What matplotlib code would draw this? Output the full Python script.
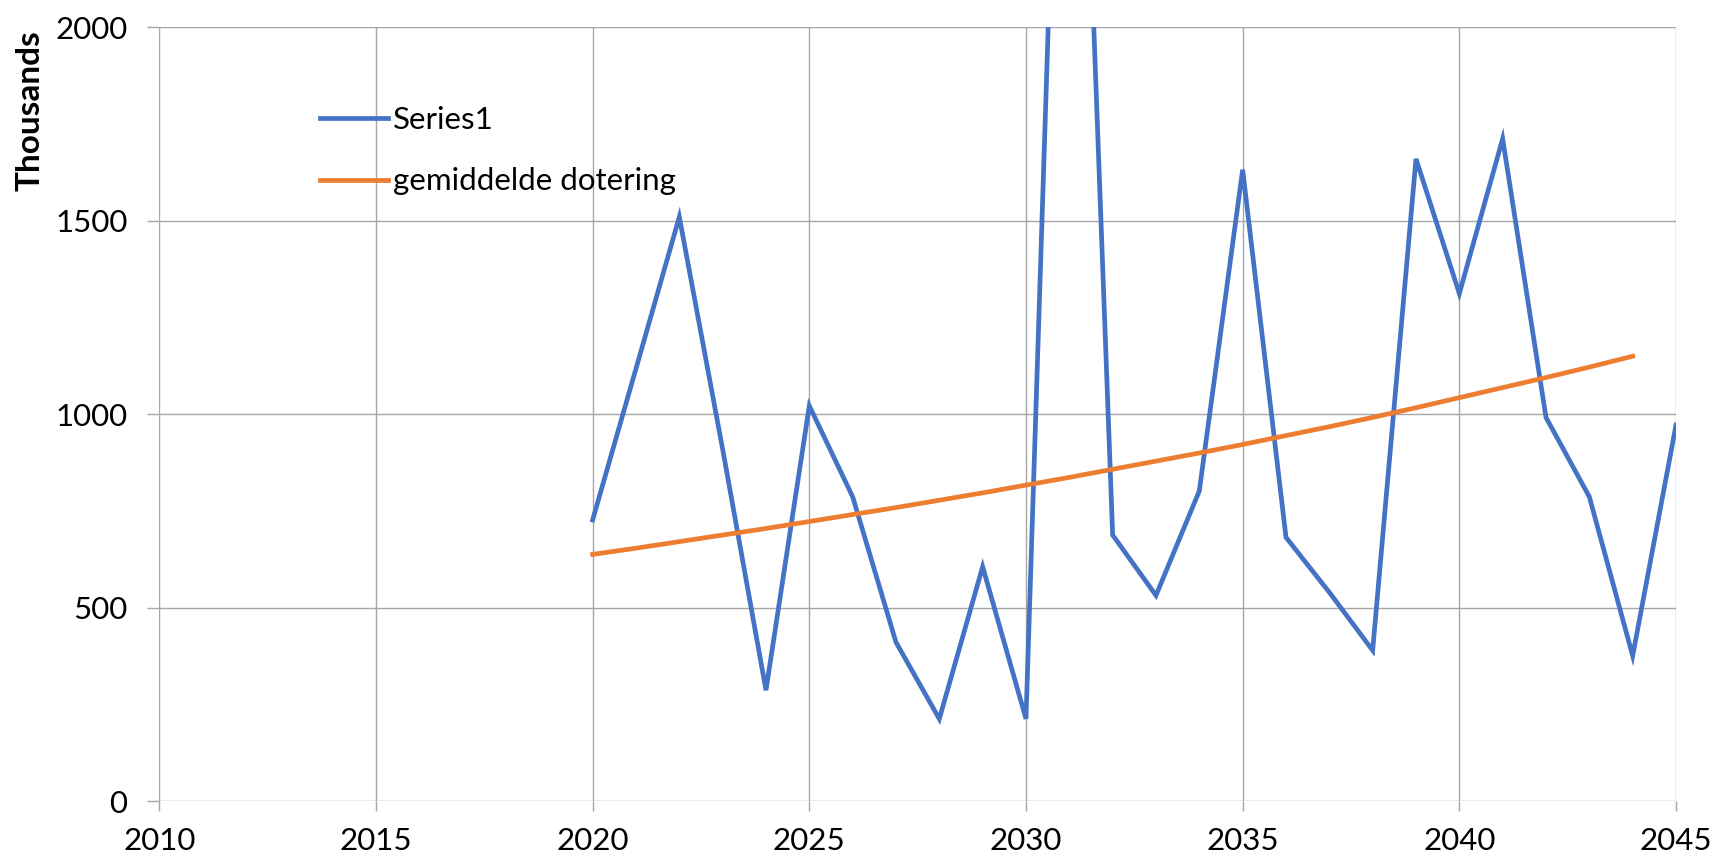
import matplotlib.pyplot as plt

# data (values in thousands)
years = list(range(2020, 2046))
series1 = [727, 1118, 1510, 910, 287, 1022, 787, 411, 213, 606,
           213, 3700, 688, 532, 802, 1632, 682, 540, 390, 1660,
           1312, 1712, 992, 787, 376, 972]

avg_years = list(range(2020, 2045))
gemiddelde = [638, 654, 671, 688, 705, 723, 741, 759, 778, 797,
              817, 837, 858, 879, 900, 922, 945, 968, 992, 1017,
              1043, 1069, 1095, 1122, 1150]

x_ticks = [2010, 2015, 2020, 2025, 2030, 2035, 2040, 2045]
y_ticks = [0, 500, 1000, 1500, 2000]

plt.rcParams['font.family'] = ['Lato', 'DejaVu Sans']

fig = plt.figure(figsize=(17.13, 8.6), dpi=100)
ax = fig.add_axes([159.3 / 1713, 1 - 801.3 / 860, (1676 - 159.3) / 1713, (801.3 - 27.3) / 860])

grid_col = '#a6a6a6'
ax.plot(years, series1, color='#4472C4', lw=3.4, label='Series1', solid_joinstyle='miter')
ax.plot(avg_years, gemiddelde, color='#ED7D31', lw=3.4, label='gemiddelde dotering')

ax.set_xlim(2010, 2045)
ax.set_ylim(0, 2000)
ax.set_xticks(x_ticks)
ax.set_yticks(y_ticks)
ax.grid(True, color=grid_col, lw=1.0)
ax.set_axisbelow(True)

for s in ax.spines.values():
    s.set_visible(False)

ax.tick_params(axis='x', length=7.5, width=1.0, color=grid_col, pad=11, labelsize=22.5)
ax.tick_params(axis='y', length=9, width=1.0, color=grid_col, pad=14, labelsize=22.5)

fig.text(30 / 1713, 1 - 111 / 860, 'Thousands', rotation=90, ha='center', va='center',
         fontsize=24, fontweight='bold')

ax.legend(loc='upper left', bbox_to_anchor=((320 - 159.3) / 1516.7, 1 - (106 - 27.3) / 774),
          frameon=False, fontsize=22.5, handlelength=2.18, handletextpad=0.15,
          borderpad=0, borderaxespad=0, labelspacing=1.07)

fig.savefig('out.png', dpi=100)
